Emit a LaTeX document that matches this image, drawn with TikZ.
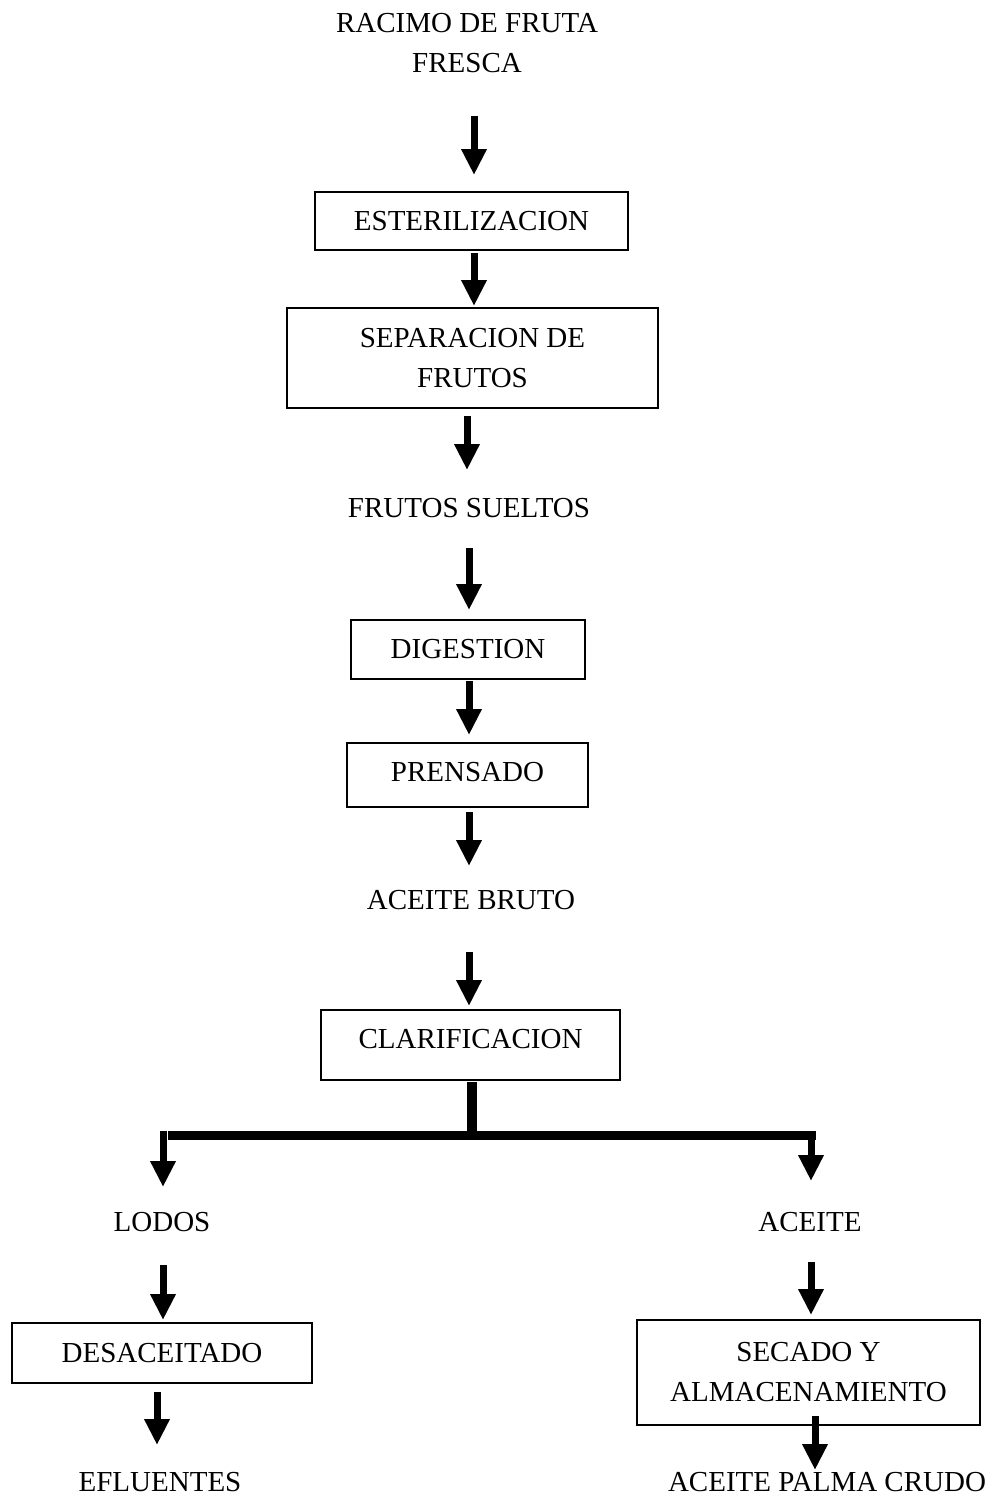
\documentclass[tikz,border=0pt]{standalone}
\usepackage{fontspec}
\setmainfont{Liberation Serif}
\usetikzlibrary{arrows.meta}
\tikzset{
  box/.style={draw, line width=2pt, inner sep=0pt, align=center},
  lbl/.style={inner sep=0pt, align=center},
  arr/.style={line width=7pt, -{Triangle[length=26pt,width=24pt]}},
  bar/.style={line width=9pt}
}
\begin{document}
\begin{tikzpicture}[x=1pt,y=-1pt,font=\fontsize{29}{40}\selectfont]
\useasboundingbox (0,0) rectangle (997,1499);
\node[lbl] (racimo) at (467,43) {RACIMO DE FRUTA\\FRESCA};
\node[box, minimum width=313pt, minimum height=58pt] (ester) at (471.5,221) {ESTERILIZACION};
\node[box, minimum width=371pt, minimum height=100pt] (sep) at (472.5,358) {SEPARACION DE\\FRUTOS};
\node[lbl] (sueltos) at (469,508) {FRUTOS SUELTOS};
\node[box, minimum width=234pt, minimum height=59pt] (dig) at (468,649.5) {DIGESTION};
\node[box, minimum width=241pt, minimum height=64pt, text depth=6pt] (pren) at (467.5,775) {PRENSADO};
\node[lbl] (bruto) at (471,900) {ACEITE BRUTO};
\node[box, minimum width=299pt, minimum height=70pt, text depth=13pt] (clar) at (470.5,1045) {CLARIFICACION};
\node[lbl] (lodos) at (162,1222) {LODOS};
\node[lbl] (aceite) at (810,1222) {ACEITE};
\node[box, minimum width=300pt, minimum height=60pt] (desac) at (162,1353) {DESACEITADO};
\node[box, minimum width=343pt, minimum height=105pt] (secado) at (808.5,1372.5) {SECADO Y\\ALMACENAMIENTO};
\node[lbl] (eflu) at (160,1482) {EFLUENTES};
\node[lbl] (crudo) at (827,1482) {ACEITE PALMA CRUDO};

\draw[arr] ([shift={(7,72.5)}]racimo.center) -- ([shift={(2.5,-46)}]ester.center);
\draw[arr] ([shift={(2.5,32)}]ester.center) -- ([shift={(1.5,-52)}]sep.center);
\draw[arr] ([shift={(-5.5,58)}]sep.center) -- ([shift={(-2,-38)}]sueltos.center);
\draw[arr] ([shift={(0,40)}]sueltos.center) -- ([shift={(1,-39.5)}]dig.center);
\draw[arr] ([shift={(1,31.5)}]dig.center) -- ([shift={(1.5,-40)}]pren.center);
\draw[arr] ([shift={(1.5,37)}]pren.center) -- ([shift={(-2,-34)}]bruto.center);
\draw[arr] ([shift={(-2,52)}]bruto.center) -- ([shift={(-1.5,-39)}]clar.center);

\coordinate (j) at (472,1135);
\coordinate (jl) at (163,1135);
\coordinate (jr) at (811,1135);
\draw[line width=10pt] ([shift={(1.5,37)}]clar.center) -- (j);
\draw[bar] ([xshift=5pt]jl) -- ([xshift=4.5pt]jr);
\draw[arr] ([yshift=4pt]jl) -- ([shift={(1,-35)}]lodos.center);
\draw[arr] ([yshift=-4.5pt]jr) -- ([shift={(1,-41)}]aceite.center);

\draw[arr] ([shift={(1,43)}]lodos.center) -- ([shift={(1,-33)}]desac.center);
\draw[arr] ([shift={(1,40)}]aceite.center) -- ([shift={(2.5,-57.5)}]secado.center);
\draw[arr] ([shift={(-5,39)}]desac.center) -- ([shift={(-3,-37)}]eflu.center);
\draw[arr] ([shift={(6.5,43.5)}]secado.center) -- ([shift={(-12,-12)}]crudo.center);
\end{tikzpicture}
\end{document}
